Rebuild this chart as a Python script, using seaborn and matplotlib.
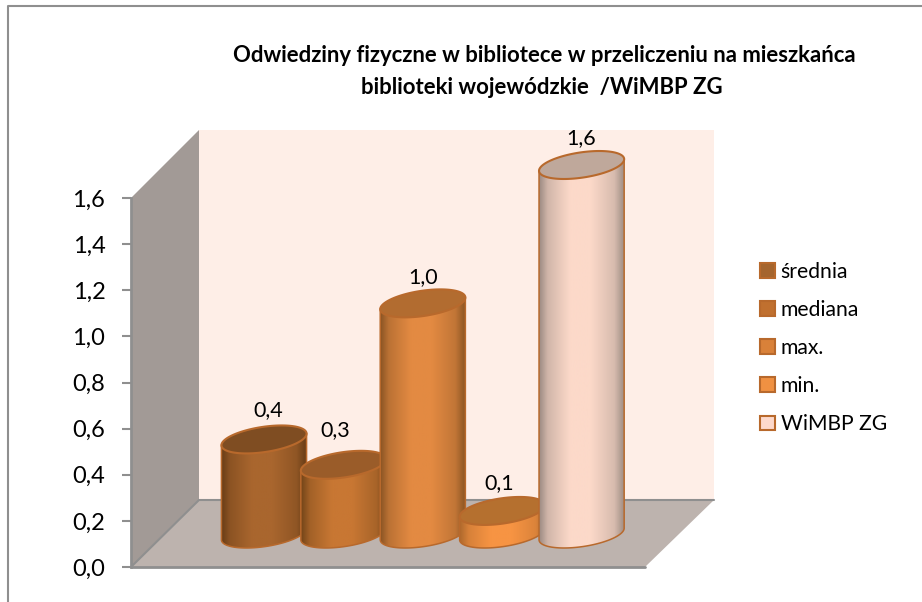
import numpy as np
import pandas as pd
import seaborn as sns
import matplotlib
matplotlib.use("Agg")
import matplotlib.pyplot as plt
from matplotlib.colors import LinearSegmentedColormap, to_rgb
from matplotlib.patches import Patch, Polygon

# data
categories = ["średnia", "mediana", "max.", "min.", "WiMBP ZG"]
values = [0.41, 0.30, 1.00, 0.10, 1.60]
y_ticks = [0.0, 0.2, 0.4, 0.6, 0.8, 1.0, 1.2, 1.4, 1.6]
title_lines = ["Odwiedziny fizyczne w bibliotece w przeliczeniu na mieszkańca",
               "biblioteki wojewódzkie  /WiMBP ZG"]

# colours
legend_colors = ["#a5652e", "#c0702f", "#d98139", "#f09142", "#fdd9cc"]
top_colors = ["#7f4d22", "#9a5c29", "#b26c30", "#b5702f", "#bfa89b"]
side_dark = ["#673c16", "#744519", "#8a5423", "#b06a2d", "#9c8b82"]
side_light = ["#a9662e", "#c87733", "#e38a42", "#f79443", "#fcd9c9"]
edge_color = "#b8692c"
grey = "#8f8f8f"

W, H = 922, 602
sns.set_theme(style="white")
plt.rcParams["font.family"] = ["Lato", "DejaVu Sans"]


def axes_box(left, top, right, bottom):
    # pixel box (y from the top) -> figure fractions
    return [left / W, 1 - bottom / H, (right - left) / W, (bottom - top) / H]


def side_cmap(name, dark, light):
    # quick fall-off at the edges, wide highlight in the middle
    stops = [0, 0.1, 0.36, 0.6, 0.88, 1]
    mix = [0, 0.55, 1, 1, 0.62, 0]
    d, l = np.array(to_rgb(dark)), np.array(to_rgb(light))
    return LinearSegmentedColormap.from_list(name, [(s, tuple(d + (l - d) * m)) for s, m in zip(stops, mix)])


fig = plt.figure(figsize=(W / 100, H / 100), dpi=100, facecolor="white")

# frame and walls, in picture pixels
bg = fig.add_axes([0, 0, 1, 1], zorder=0)
bg.set_xlim(0, W)
bg.set_ylim(H, 0)
bg.axis("off")
bg.plot([8, 8, W], [H, 6, 6], color=grey, lw=1.5)
bg.add_patch(Polygon([(199, 130), (714, 130), (714, 500), (199, 500)], fc="#feeee7", ec="none"))
bg.add_patch(Polygon([(131, 198), (199, 130), (199, 500), (131, 567)], fc="#a29a96", ec="none"))
bg.add_patch(Polygon([(131, 567), (199, 500), (714, 500), (645, 567)], fc="#bdb3ae", ec="none"))
bg.plot([131, 199, 714], [567, 500, 500], color=grey, lw=1.5)
bg.plot([131, 645], [567, 567], color=grey, lw=2)

# value axis
ax = fig.add_axes(axes_box(131, 198, 645, 567), zorder=1)
ax.patch.set_alpha(0)
ax.set_ylim(0, 1.6)
ax.set_xticks([])
ax.set_yticks(y_ticks)
ax.set_yticklabels([f"{t:.1f}".replace(".", ",") for t in y_ticks], fontsize=17, color="black")
ax.tick_params(axis="y", left=True, length=6.5, width=1.5, color=grey, pad=12)
for side in ["top", "right", "bottom"]:
    ax.spines[side].set_visible(False)
ax.spines["left"].set_color(grey)
ax.spines["left"].set_linewidth(2)

# cylinders: same vertical scale as the value axis, floor raised in perspective
step = 79.4
x0, y0 = 264, 534
px_per_unit = (567 - 198) / 1.6
ax3 = fig.add_axes(axes_box(x0 - step, y0 - 1.8 * px_per_unit, x0 + 5 * step, y0 + 0.2 * px_per_unit), zorder=2)
df = pd.DataFrame({"kategoria": categories, "wartosc": values})
sns.barplot(data=df, x="kategoria", y="wartosc", hue="kategoria", order=categories, hue_order=categories,
            palette=legend_colors, width=1.07, legend=False, ax=ax3, linewidth=0)
ax3.axis("off")

# tilted ellipse of the cylinder cap, offsets in axis units
a, b, tilt = 43, 12.6, np.radians(8.5)
t = np.linspace(0, 2 * np.pi, 241)[:-1]
ell_x = (a * np.cos(t) * np.cos(tilt) - b * np.sin(t) * np.sin(tilt)) / step
ell_y = (a * np.cos(t) * np.sin(tilt) + b * np.sin(t) * np.cos(tilt)) / px_per_unit
i_right, i_left = ell_x.argmax(), ell_x.argmin()
n_right = (i_right - i_left) % len(t)
lower = np.roll(np.arange(len(t)), -i_left)[:n_right + 1]

label_dy = [29, 35, 26, 28, 27]
label_dx = [4, -8, 0, -3, 0]

for i, bar in enumerate(ax3.patches):
    cx = bar.get_x() + bar.get_width() / 2
    val = bar.get_height()
    z = 3 + 5 * i
    bar.set_zorder(z)

    # body: bottom arc, then straight up to the cap
    bottom = np.column_stack([cx + ell_x[lower], ell_y[lower]])
    top = np.column_stack([cx + ell_x, val + ell_y])
    body_pts = np.vstack([bottom, [[cx + ell_x[i_right], val + ell_y[i_right]]],
                          [[cx + ell_x[i_left], val + ell_y[i_left]]]])
    outline = Polygon(body_pts, closed=True, fc="none", ec=edge_color, lw=1.1, zorder=z + 2)
    ax3.add_patch(outline)

    img = ax3.imshow(np.linspace(0, 1, 128).reshape(1, -1), cmap=side_cmap(f"cyl{i}", side_dark[i], side_light[i]),
                     aspect="auto", extent=[cx + ell_x.min(), cx + ell_x.max(), -0.2, val + 0.1], zorder=z + 1)
    img.set_clip_path(outline)
    bar.set_clip_path(outline)

    ax3.add_patch(Polygon(top, closed=True, fc=top_colors[i], ec=edge_color, lw=1.5, zorder=z + 3))
    ax3.annotate(f"{val:.1f}".replace(".", ","), (cx, val), xytext=(label_dx[i] * 0.72, label_dy[i] * 0.72),
                 textcoords="offset points", ha="center", va="center", fontsize=15.5, color="black", zorder=60)

ax3.set_xlim(-1, 5)
ax3.set_ylim(-0.2, 1.8)

# title
fig.text(544 / W, 1 - 55 / H, title_lines[0], ha="center", va="center", fontsize=15.9, fontweight="bold", color="black")
fig.text(542 / W, 1 - 87 / H, title_lines[1], ha="center", va="center", fontsize=15.9, fontweight="bold", color="black")

# legend
handles = [Patch(facecolor=c, edgecolor=edge_color, linewidth=1.5) for c in legend_colors]
fig.legend(handles, categories, loc="center left", bbox_to_anchor=(760 / W, 1 - 348 / H), frameon=False,
           fontsize=15.2, labelspacing=0.86, handlelength=0.7, handleheight=0.7, handletextpad=0.28,
           borderpad=0, borderaxespad=0, labelcolor="black")

fig.savefig("out.png", dpi=100)
